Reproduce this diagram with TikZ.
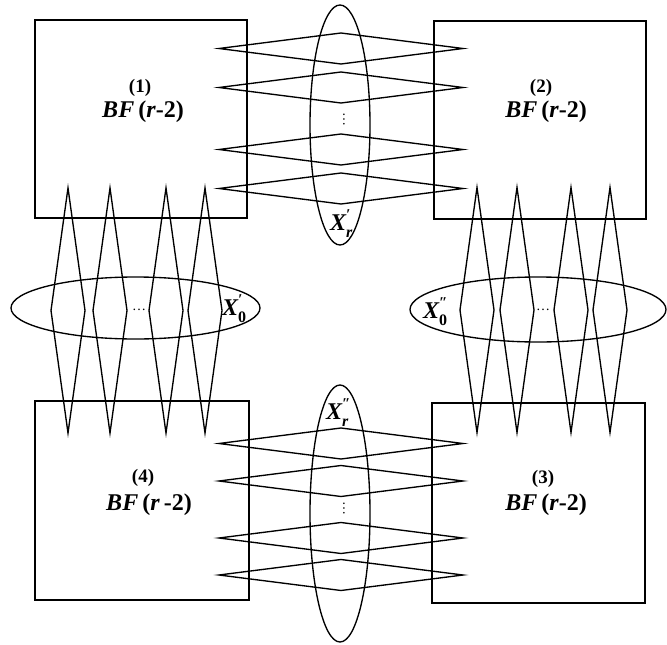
\documentclass[tikz,border=0pt]{standalone}
\usepackage{fontspec}
\setmainfont{Liberation Serif}
\usetikzlibrary{shapes.geometric}
\newcommand{\bfi}[1]{\textbf{\textit{#1}}}
\newcommand{\xlab}[2]{\bfi{X}\kern-0.5pt\rlap{\raisebox{0.45em}{\fontsize{15pt}{15pt}\selectfont\bfi{#1}}}\raisebox{-0.3em}{\fontsize{16pt}{16pt}\selectfont #2}}
\begin{document}
\begin{tikzpicture}[x=1pt,y=-1pt,
  lw/.style={line width=1.35pt},
  blk/.style={lw, draw, rectangle, inner sep=0pt, outer sep=0pt},
  oval/.style={lw, draw, ellipse, inner sep=0pt, outer sep=0pt},
  hlink/.style={lw, draw, diamond, inner sep=0pt, outer sep=0pt, minimum width=244pt, minimum height=31pt},
  vlink/.style={lw, draw, diamond, inner sep=0pt, outer sep=0pt, minimum width=34pt, minimum height=245pt},
  num/.style={font=\fontsize{19pt}{19pt}\selectfont\bfseries, inner sep=0pt},
  bf/.style={font=\fontsize{24pt}{24pt}\selectfont\bfseries, inner sep=0pt, anchor=base},
  xl/.style={font=\fontsize{24pt}{24pt}\selectfont, inner sep=0pt, anchor=base west},
  dots/.style={font=\fontsize{14pt}{14pt}\selectfont, inner sep=0pt}]
\useasboundingbox (0,0) rectangle (667,645);

% boxes
\node[blk, minimum width=212pt, minimum height=198pt] (b1) at (141,119) {};
\node[blk, minimum width=212pt, minimum height=198pt] (b2) at (540,120) {};
\node[blk, minimum width=213pt, minimum height=200pt] (b3) at (538.5,503) {};
\node[blk, minimum width=214pt, minimum height=199pt] (b4) at (142,500.5) {};

% ellipses
\node[oval, minimum width=60pt, minimum height=240pt] (et) at (340,125) {};
\node[oval, minimum width=60pt, minimum height=257pt] (eb) at (340,513.5) {};
\node[oval, minimum width=249pt, minimum height=62pt] (el) at (135.5,308) {};
\node[oval, minimum width=256pt, minimum height=65pt] (er) at (538,309.5) {};

% horizontal links (top)
\node[hlink] (t1) at (341,48.5) {};
\node[hlink] (t2) at (341,87.5) {};
\node[hlink] (t3) at (341,149.5) {};
\node[hlink] (t4) at (341,188.5) {};
% horizontal links (bottom)
\node[hlink] (u1) at (341,443.5) {};
\node[hlink] (u2) at (341,481) {};
\node[hlink] (u3) at (341,538) {};
\node[hlink] (u4) at (341,575) {};
% vertical links (left)
\node[vlink] (l1) at (68,310.5) {};
\node[vlink] (l2) at (110,310.5) {};
\node[vlink] (l3) at (166,310.5) {};
\node[vlink] (l4) at (205,310.5) {};
% vertical links (right)
\node[vlink] (r1) at (477,310) {};
\node[vlink] (r2) at (517,310) {};
\node[vlink] (r3) at (571,310) {};
\node[vlink] (r4) at (610,310) {};

% dots
\node[dots] (dl) at (139,310) {…};
\node[dots] (dr) at (543,310) {…};
\node[dots, rotate=90] (dt) at (344,119) {…};
\node[dots, rotate=90] (db) at (344,508) {…};

% box labels
\node[num] (n1) at (140,88) {(1)};
\node[bf] (f1) at (143,117) {\bfi{BF}\,(\bfi{r}-2)};
\node[num] (n2) at (541,88) {(2)};
\node[bf] (f2) at (546,117) {\bfi{BF}\,(\bfi{r}-2)};
\node[num] (n3) at (543,479) {(3)};
\node[bf] (f3) at (546,510) {\bfi{BF}\,(\bfi{r}-2)};
\node[num] (n4) at (143,478) {(4)};
\node[bf] (f4) at (149,510) {\bfi{BF}\,(\bfi{r}\,-2)};

% set labels
\node[xl] (xr1) at (330,230) {\xlab{′}{\bfi{r}}};
\node[xl] (xr2) at (326,419) {\xlab{″}{\bfi{r}}};
\node[xl] (x01) at (222,315) {\xlab{′}{\textbf{0}}};
\node[xl] (x02) at (423,318) {\xlab{″}{\textbf{0}}};
\end{tikzpicture}
\end{document}
